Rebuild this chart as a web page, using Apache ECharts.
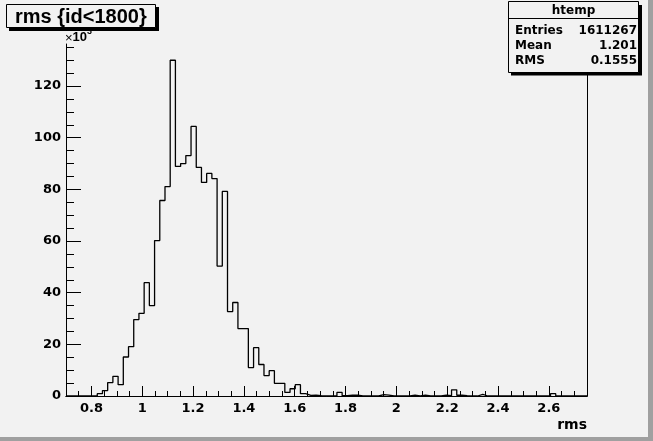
<!DOCTYPE html>
<html>
<head>
<meta charset="utf-8">
<script src="https://cdn.jsdelivr.net/npm/echarts@6/dist/echarts.min.js"></script>
<style>
html,body{margin:0;padding:0;background:#f2f2f2;}
#chart{width:653px;height:441px;}
</style>
</head>
<body>
<div id="chart"></div>
<script>
// ---- data (counts in thousands, 100 bins from 0.7 to 2.75) ----
const histLow = 0.7;
const histHigh = 2.75;
const binCount = 100;
const binValues = [
  0, 0, 0, 0, 0, 0, 0.9, 2.1, 5.2, 7.6,
  4.4, 15.1, 19.1, 29.6, 32.0, 43.9, 35.0, 60.2, 75.7, 81.1,
  130.0, 88.9, 90.0, 93.1, 104.4, 88.5, 82.7, 86.2, 84.2, 50.3,
  79.2, 32.7, 36.2, 26.1, 26.1, 11.0, 18.7, 12.2, 7.9, 9.8,
  4.9, 4.9, 1.4, 2.8, 4.4, 0.9, 0.2, 0.3, 0.1, 0,
  0, 0, 1.4, 0.1, 0.3, 0.3, 0, 0, 0, 0,
  0.5, 0.3, 0, 0, 0, 0, 0.3, 0, 0.3, 0,
  0, 0, 0.3, 0.1, 2.4, 0.3, 0.1, 0, 0, 0.6,
  0, 0, 0, 0, 0, 0, 0, 0, 0, 0,
  0, 0, 0, 0.9, 0, 0, 0, 0, 0, 0
];
const xMajorTicks = [0.8, 1, 1.2, 1.4, 1.6, 1.8, 2, 2.2, 2.4, 2.6];
const xMinorTicks = [0.75, 0.8, 0.85, 0.9, 0.95, 1, 1.05, 1.1, 1.15, 1.2, 1.25, 1.3, 1.35, 1.4, 1.45,
  1.5, 1.55, 1.6, 1.65, 1.7, 1.75, 1.8, 1.85, 1.9, 1.95, 2, 2.05, 2.1, 2.15, 2.2, 2.25, 2.3, 2.35,
  2.4, 2.45, 2.5, 2.55, 2.6, 2.65, 2.7];
const yMajorTicks = [0, 20, 40, 60, 80, 100, 120];
const yMinorTicks = [5, 10, 15, 20, 25, 30, 35, 40, 45, 50, 55, 60, 65, 70, 75, 80, 85, 90, 95, 100,
  105, 110, 115, 120, 125, 130, 135];
const yMax = 136.3;
const titleText = 'rms {id<1800}';
const xTitle = 'rms';
const statsName = 'htemp';
const statsLabels = ['Entries', 'Mean', 'RMS'];
const statsValues = ['1611267', '1.201', '0.1555'];

// ---- build step data from bin edges ----
const binWidth = (histHigh - histLow) / binCount;
const stepData = binValues.map((v, i) => [histLow + i * binWidth, v]);
stepData.push([histHigh, binValues[binCount - 1]]);

const chart = echarts.init(document.getElementById('chart'), null, {renderer: 'canvas'});
const labelFont = {color: '#000', fontFamily: 'DejaVu Sans', fontWeight: 'bold', fontSize: 13};

const baseX = {type: 'value', min: histLow, max: histHigh, splitLine: {show: false}};
const baseY = {type: 'value', min: 0, max: yMax, splitLine: {show: false}};

const option = {
  animation: false,
  backgroundColor: '#f2f2f2',
  grid: {left: 66, right: 66, top: 44, bottom: 45, containLabel: false},
  xAxis: [
    Object.assign({}, baseX, {
      position: 'bottom',
      axisLine: {show: true, lineStyle: {color: '#000', width: 1}},
      axisTick: {show: true, inside: true, length: 10, customValues: xMajorTicks, lineStyle: {color: '#000'}},
      axisLabel: Object.assign({show: true, margin: 6, customValues: xMajorTicks}, labelFont)
    }),
    Object.assign({}, baseX, {
      position: 'bottom',
      axisLine: {show: false},
      axisTick: {show: true, inside: true, length: 5, customValues: xMinorTicks, lineStyle: {color: '#000'}},
      axisLabel: {show: false}
    }),
    Object.assign({}, baseX, {
      position: 'top',
      axisLine: {show: true, lineStyle: {color: '#000', width: 1}},
      axisTick: {show: false},
      axisLabel: {show: false}
    })
  ],
  yAxis: [
    Object.assign({}, baseY, {
      position: 'left',
      axisLine: {show: true, lineStyle: {color: '#000', width: 1}},
      axisTick: {show: true, inside: true, length: 15, customValues: yMajorTicks, lineStyle: {color: '#000'}},
      axisLabel: Object.assign({show: true, margin: 5, customValues: yMajorTicks}, labelFont)
    }),
    Object.assign({}, baseY, {
      position: 'left',
      axisLine: {show: false},
      axisTick: {show: true, inside: true, length: 8, customValues: yMinorTicks, lineStyle: {color: '#000'}},
      axisLabel: {show: false}
    }),
    Object.assign({}, baseY, {
      position: 'right',
      axisLine: {show: true, lineStyle: {color: '#000', width: 1}},
      axisTick: {show: false},
      axisLabel: {show: false}
    })
  ],
  series: [{
    type: 'line',
    xAxisIndex: 0,
    yAxisIndex: 0,
    step: 'end',
    symbol: 'none',
    data: stepData,
    lineStyle: {color: '#000', width: 1.3},
    z: 5
  }],
  graphic: [
    // canvas bevel
    {type: 'rect', z: 50, shape: {x: 648, y: 0, width: 5, height: 441}, style: {fill: '#a0a0a0'}},
    {type: 'rect', z: 50, shape: {x: 0, y: 437, width: 653, height: 4}, style: {fill: '#a0a0a0'}},
    // title box with shadow
    {type: 'rect', z: 100, shape: {x: 9, y: 7, width: 150, height: 24}, style: {fill: '#000'}},
    {type: 'rect', z: 101, shape: {x: 6.5, y: 4.5, width: 149, height: 23}, style: {fill: '#f2f2f2', stroke: '#000', lineWidth: 1}},
    {type: 'text', z: 102, x: 15, y: 17, style: {text: titleText, fill: '#000', font: 'bold 20px "Liberation Sans", Arial, sans-serif', textVerticalAlign: 'middle'}},
    // x10^3 multiplier
    {type: 'text', z: 102, x: 65, y: 38.5, style: {text: '\u00d7', fill: '#000', font: '13px "Liberation Sans", Arial, sans-serif', textVerticalAlign: 'middle'}},
    {type: 'text', z: 102, x: 72.5, y: 37.5, style: {text: '10', fill: '#000', font: 'bold 13px "Liberation Sans", Arial, sans-serif', textVerticalAlign: 'middle'}},
    {type: 'text', z: 102, x: 87, y: 31.5, style: {text: '3', fill: '#000', font: 'bold 9px "Liberation Sans", Arial, sans-serif', textVerticalAlign: 'middle'}},
    // stats box with shadow
    {type: 'rect', z: 100, shape: {x: 511, y: 5, width: 131, height: 70.5}, style: {fill: '#000'}},
    {type: 'rect', z: 101, shape: {x: 508.5, y: 1.5, width: 130, height: 71}, style: {fill: '#f2f2f2', stroke: '#000', lineWidth: 1}},
    {type: 'line', z: 102, shape: {x1: 508.5, y1: 18.5, x2: 638.5, y2: 18.5}, style: {stroke: '#000', lineWidth: 1}},
    {type: 'text', z: 102, x: 573.5, y: 10.5, style: {text: statsName, fill: '#000', font: 'bold 12px "DejaVu Sans", sans-serif', textAlign: 'center', textVerticalAlign: 'middle'}},
    {type: 'text', z: 102, x: 515, y: 30.5, style: {text: statsLabels[0], fill: '#000', font: 'bold 12px "DejaVu Sans", sans-serif', textVerticalAlign: 'middle'}},
    {type: 'text', z: 102, x: 515, y: 45.5, style: {text: statsLabels[1], fill: '#000', font: 'bold 12px "DejaVu Sans", sans-serif', textVerticalAlign: 'middle'}},
    {type: 'text', z: 102, x: 515, y: 60.5, style: {text: statsLabels[2], fill: '#000', font: 'bold 12px "DejaVu Sans", sans-serif', textVerticalAlign: 'middle'}},
    {type: 'text', z: 102, x: 637, y: 30.5, style: {text: statsValues[0], fill: '#000', font: 'bold 12px "DejaVu Sans", sans-serif', textAlign: 'right', textVerticalAlign: 'middle'}},
    {type: 'text', z: 102, x: 637, y: 45.5, style: {text: statsValues[1], fill: '#000', font: 'bold 12px "DejaVu Sans", sans-serif', textAlign: 'right', textVerticalAlign: 'middle'}},
    {type: 'text', z: 102, x: 637, y: 60.5, style: {text: statsValues[2], fill: '#000', font: 'bold 12px "DejaVu Sans", sans-serif', textAlign: 'right', textVerticalAlign: 'middle'}},
    // x axis title
    {type: 'text', z: 102, x: 587, y: 425, style: {text: xTitle, fill: '#000', font: 'bold 14px "DejaVu Sans", sans-serif', textAlign: 'right', textVerticalAlign: 'middle'}}
  ]
};
chart.setOption(option);
</script>
</body>
</html>
